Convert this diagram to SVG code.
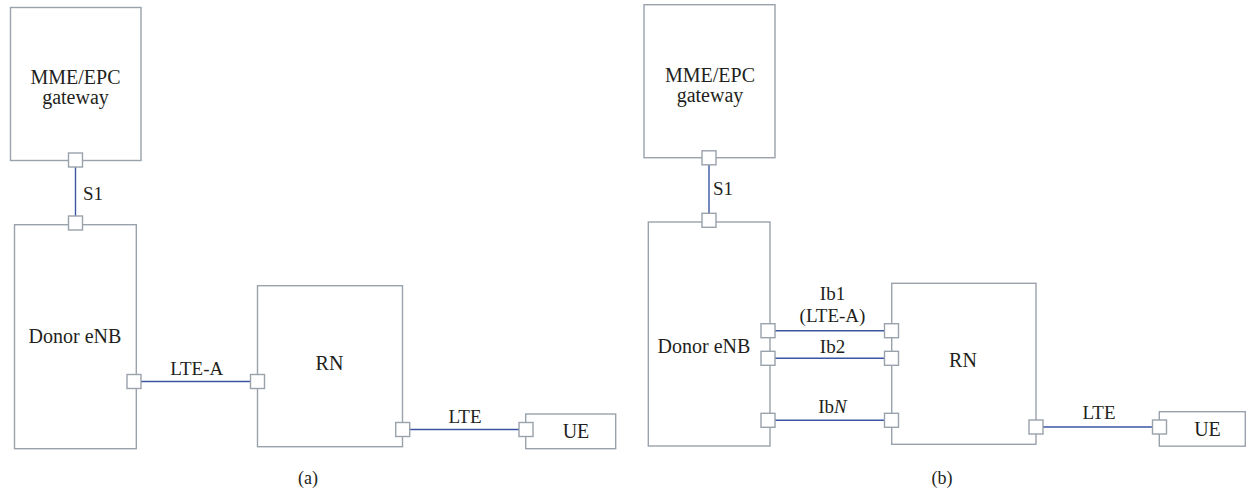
<svg xmlns="http://www.w3.org/2000/svg" width="1247" height="490" viewBox="0 0 1247 490" font-family="Liberation Serif, Times New Roman, serif">
<style>
.box{fill:#fff;stroke:#9aa2ac;stroke-width:1.4}
.port{fill:#fff;stroke:#9aa2ac;stroke-width:1.4}
.link{stroke:#3a56a3;stroke-width:1.4;fill:none}
text{font-size:20px;fill:#231f20}
.c{text-anchor:middle}
.lbl{font-size:19px}
.cap{font-size:18px;text-anchor:middle}
</style>
<rect width="1247" height="490" fill="#fff"/>
<g id="connectors">
<line class="link" x1="75.5" y1="167" x2="75.5" y2="216"/>
<line class="link" x1="141" y1="381.5" x2="250.5" y2="381.5"/>
<line class="link" x1="409.7" y1="429.5" x2="519" y2="429.5"/>
<line class="link" x1="709" y1="164.8" x2="709" y2="213.3"/>
<line class="link" x1="775" y1="330.7" x2="884.5" y2="330.7"/>
<line class="link" x1="775" y1="358.3" x2="884.5" y2="358.3"/>
<line class="link" x1="775" y1="420.3" x2="884.5" y2="420.3"/>
<line class="link" x1="1043" y1="427" x2="1152.5" y2="427"/>
<text class="lbl" x="83" y="200">S1</text>
<text class="lbl c" x="196.7" y="375">LTE-A</text>
<text class="lbl c" x="465" y="423">LTE</text>
<text class="lbl" x="713" y="195">S1</text>
<text class="lbl c" x="832.5" y="300">Ib1</text>
<text class="lbl c" x="832.5" y="321.7">(LTE-A)</text>
<text class="lbl c" x="832.5" y="352.7">Ib2</text>
<text class="lbl c" x="832.5" y="412.7">Ib<tspan font-style="italic">N</tspan></text>
<text class="lbl c" x="1099" y="419">LTE</text>
</g>
<g id="a-mme">
<rect class="box" x="10.5" y="7.5" width="130.5" height="153"/>
<text class="c" x="75.5" y="84">MME/EPC</text>
<text class="c" x="75.5" y="104">gateway</text>
<rect class="port" x="68.5" y="153" width="14" height="14"/>
</g>
<g id="a-donor">
<rect class="box" x="14.5" y="224.7" width="121.8" height="224"/>
<rect class="port" x="68.5" y="216" width="14" height="14"/>
<rect class="port" x="127" y="374.5" width="14" height="14"/>
<text class="c" x="75" y="343">Donor eNB</text>
</g>
<g id="a-rn">
<rect class="box" x="257.5" y="285.7" width="145" height="161"/>
<rect class="port" x="250.5" y="374.5" width="14" height="14"/>
<rect class="port" x="395.7" y="422.5" width="14" height="14"/>
<text class="c" x="329.5" y="370">RN</text>
</g>
<g id="a-ue">
<rect class="box" x="525.7" y="414" width="90" height="34.7"/>
<rect class="port" x="519" y="422.5" width="14" height="14"/>
<text class="c" x="576" y="438">UE</text>
</g>
<g id="b-mme">
<rect class="box" x="644" y="4.7" width="131" height="153"/>
<text class="c" x="710" y="81.7">MME/EPC</text>
<text class="c" x="710" y="101.5">gateway</text>
<rect class="port" x="702" y="150.8" width="14" height="14"/>
</g>
<g id="b-donor">
<rect class="box" x="648.3" y="222" width="121.7" height="224"/>
<rect class="port" x="702" y="213.3" width="14" height="14"/>
<rect class="port" x="761" y="323.7" width="14" height="14"/>
<rect class="port" x="761" y="351.3" width="14" height="14"/>
<rect class="port" x="761" y="413.3" width="14" height="14"/>
<text class="c" x="704" y="353">Donor eNB</text>
</g>
<g id="b-rn">
<rect class="box" x="891.7" y="283.3" width="144.3" height="161"/>
<rect class="port" x="884.5" y="323.7" width="14" height="14"/>
<rect class="port" x="884.5" y="351.3" width="14" height="14"/>
<rect class="port" x="884.5" y="413.3" width="14" height="14"/>
<rect class="port" x="1029" y="420" width="14" height="14"/>
<text class="c" x="963" y="366.7">RN</text>
</g>
<g id="b-ue">
<rect class="box" x="1159.3" y="411.7" width="86" height="34.5"/>
<rect class="port" x="1152.5" y="420" width="14" height="14"/>
<text class="c" x="1207.5" y="436">UE</text>
</g>
<text class="cap" x="308" y="484">(a)</text>
<text class="cap" x="942" y="484">(b)</text>
</svg>
